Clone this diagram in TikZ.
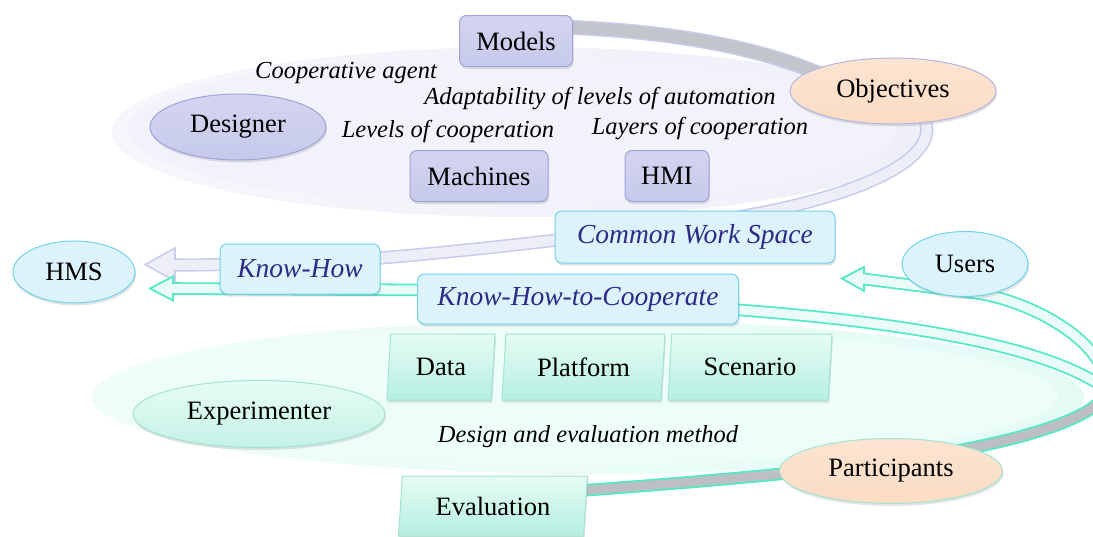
\documentclass[tikz,border=0pt]{standalone}
\usepackage{fontspec}
\setmainfont{Liberation Serif}
\usetikzlibrary{shapes.geometric,shadows}
\definecolor{lavfill}{HTML}{C6C9EA}
\definecolor{lavtop}{HTML}{D3D5F0}
\definecolor{lavdraw}{HTML}{9EA3D9}
\definecolor{peach}{HTML}{FBDCC4}
\definecolor{peachtop}{HTML}{FCE4D2}
\definecolor{cyanfill}{HTML}{DDF3FB}
\definecolor{cyandraw}{HTML}{6FD3EA}
\definecolor{navy}{HTML}{2D2A88}
\definecolor{mintA}{HTML}{E6FCF6}
\definecolor{mintB}{HTML}{B6EFE0}
\definecolor{mintdraw}{HTML}{A3E3D1}
\definecolor{bandgreen}{HTML}{52EAC4}
\definecolor{bandfill}{HTML}{EBFCF8}
\definecolor{bandgrey}{HTML}{BDBFC2}
\definecolor{lavband}{HTML}{C9CCEA}
\definecolor{lavbandfill}{HTML}{EDEEF8}
\definecolor{greyband}{HTML}{C3C5CD}
\definecolor{bgLav}{HTML}{EEEFF8}
\definecolor{bgLavIn}{HTML}{F2F3FA}
\definecolor{bgMint}{HTML}{E4FBF6}
\definecolor{bgMintIn}{HTML}{EDFDF9}
\tikzset{
  base/.style={inner sep=0pt, line width=1pt, font=\fontsize{26.5}{30}\selectfont,
    drop shadow={opacity=0.22, shadow xshift=1pt, shadow yshift=-2.5pt}},
  lavbox/.style={base, rectangle, rounded corners=7pt, draw=lavdraw, top color=lavtop, bottom color=lavfill, minimum height=51pt},
  lavell/.style={base, ellipse, draw=lavdraw, top color=lavtop, bottom color=lavfill},
  peachell/.style={base, ellipse, draw=lavdraw!80, top color=peachtop, bottom color=peach},
  cyanbox/.style={base, rectangle, rounded corners=7pt, draw=cyandraw, fill=cyanfill, minimum height=51pt,
    font=\fontsize{27.5}{30}\selectfont\itshape, text=navy},
  cyanell/.style={base, ellipse, draw=cyandraw, fill=cyanfill},
  para/.style={base, trapezium, trapezium left angle=78, trapezium right angle=102, trapezium stretches body,
    draw=mintdraw, top color=mintA, bottom color=mintB},
  greenell/.style={base, ellipse, draw=mintdraw, top color=mintA, bottom color=mintB!80},
  lbl/.style={font=\fontsize{24.5}{28}\selectfont\itshape, inner sep=0pt},
  gband/.style={draw=bandgreen, line width=1.8pt, double distance=9pt},
  lband/.style={draw=lavband, line width=1.6pt, double=lavbandfill, double distance=10pt},
}
\begin{document}
\begin{tikzpicture}[x=1pt,y=-1pt]
\useasboundingbox (0,0) rectangle (1093,536);
\clip (0,0) rectangle (1093,536);
% background ellipses
\shade[left color=white!50!bgMint, right color=bgMint] (588,397) ellipse [x radius=496, y radius=77];
\fill[bgMintIn] (580,396) ellipse [x radius=478, y radius=68];
\shade[left color=white!50!bgLav, right color=bgLav] (521,132) ellipse [x radius=409, y radius=85];
\fill[bgLavIn] (512,130) ellipse [x radius=385, y radius=76];

% coordinates of band ends
\coordinate (gs) at (562,27);
\coordinate (ge) at (820,74);
\coordinate (ls) at (920,112);
\coordinate (lhead) at (175,265);
\coordinate (ghead) at (173,288.5);
\coordinate (uhead) at (864,279);
\coordinate (evs) at (575,491);
\coordinate (apex) at (1105,395);

% grey band Models -> Objectives
\draw[draw=lavband, line width=1.5pt, double=greyband, double distance=12pt]
  (gs) .. controls (640,30) and (740,40) .. (ge);
% lavender band Objectives -> HMS
\draw[lband] (ls) .. controls (950,150) and (880,195) .. (720,220)
  .. controls (620,233) and (480,250) .. (380,258)
  .. controls (300,263) and (230,265) .. (lhead);
\fill[lavbandfill] (177,259.25) -- (175,259.25) -- (175,248) -- (145,264.5) -- (175,281) -- (175,270.75) -- (177,270.75) -- cycle;
\draw[lavband, line width=1.6pt, line join=miter] (177,259.25) -- (175,259.25) -- (175,248) -- (145,264.5) -- (175,281) -- (175,270.75) -- (177,270.75);

% green band Know-How-to-Cooperate -> HMS
\draw[gband, double=bandfill] (ghead) -- (430,290) -- (740,310)
  .. controls (900,322) and (1040,345) .. (1100,385) .. controls (1112,393) and (1114,402) .. (1112,412);
% green band Evaluation -> Participants -> Users
\draw[gband, double=bandgrey] (evs) .. controls (700,482) and (760,476) .. (800,472)
  .. controls (950,458) and (1085,430) .. (apex);
\draw[gband, double=bandfill] (apex) .. controls (1115,345) and (1030,300) .. (975,293) -- (uhead);
% green arrow heads
\fill[bandfill] (175,283) -- (173,283) -- (173,276.5) -- (150,288.5) -- (173,300.5) -- (173,294) -- (175,294) -- cycle;
\draw[bandgreen, line width=1.8pt] (175,283) -- (173,283) -- (173,276.5) -- (150,288.5) -- (173,300.5) -- (173,294) -- (175,294);
\fill[bandfill] (866,273.5) -- (864,273.5) -- (864,267) -- (842,278.5) -- (864,291) -- (864,284.5) -- (866,284.5) -- cycle;
\draw[bandgreen, line width=1.8pt] (866,273.5) -- (864,273.5) -- (864,267) -- (842,278.5) -- (864,291) -- (864,284.5) -- (866,284.5);

% nodes
\node[lavbox, minimum width=113pt] (models) at (516,41) {Models};
\node[lavell, minimum width=176pt, minimum height=66pt] (designer) at (238,127) {Designer};
\node[lavbox, minimum width=138pt] (machines) at (479,176) {Machines};
\node[lavbox, minimum width=84pt] (hmi) at (667,176) {HMI};
\node[peachell, minimum width=206pt, minimum height=66pt] (objectives) at (893,91) {Objectives};
\node[cyanbox, minimum width=280pt, minimum height=52pt] (cws) at (695,237) {Common Work Space};
\node[cyanbox, minimum width=160pt, minimum height=50pt] (kh) at (300,269) {Know-How};
\node[cyanbox, minimum width=321pt, minimum height=50pt] (khtc) at (578,299) {Know-How-to-Cooperate};
\node[cyanell, minimum width=122pt, minimum height=62pt] (hms) at (74,272) {HMS};
\node[cyanell, minimum width=126pt, minimum height=65pt] (users) at (965,264) {Users};
\node[para, minimum width=108pt, minimum height=66pt] (data) at (441,367) {Data};
\node[para, minimum width=163pt, minimum height=66pt] (platform) at (583.5,367) {Platform};
\node[para, minimum width=164pt, minimum height=66pt] (scenario) at (750,367) {Scenario};
\node[greenell, minimum width=252pt, minimum height=67pt] (exp) at (259,414) {Experimenter};
\node[para, minimum width=189pt, minimum height=60pt] (eval) at (493,506) {Evaluation};
\node[peachell, draw=mintdraw, minimum width=223pt, minimum height=65pt] (part) at (891,471) {Participants};

% labels
\node[lbl] (l1) at (346,73) {Cooperative agent};
\node[lbl] (l2) at (600,99) {Adaptability of levels of automation};
\node[lbl] (l3) at (448,131) {Levels of cooperation};
\node[lbl] (l4) at (700,129) {Layers of cooperation};
\node[lbl] (l5) at (588,437) {Design and evaluation method};
\end{tikzpicture}
\end{document}
